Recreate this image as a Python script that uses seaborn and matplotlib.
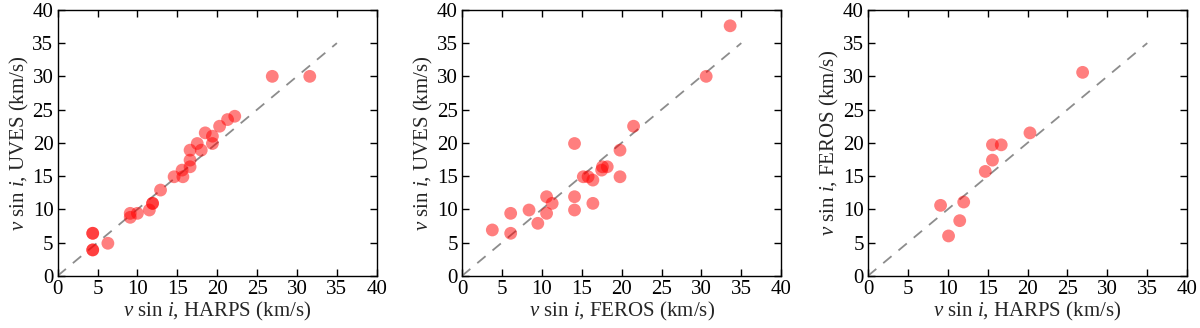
import matplotlib
matplotlib.use("Agg")
import matplotlib.pyplot as plt
import seaborn as sns
import pandas as pd

# Panel 1: HARPS vs UVES
harps_1 = [4.4, 4.4, 4.4, 4.4, 6.3, 9.1, 9.1, 10.0, 11.5, 11.9, 11.9, 12.9, 14.6, 15.6,
           15.7, 16.6, 16.6, 16.6, 17.5, 18.0, 18.5, 19.4, 19.4, 20.3, 21.3, 22.2, 26.9, 31.6]
uves_1 = [6.4, 6.4, 3.9, 3.9, 4.9, 9.4, 8.8, 9.4, 9.9, 10.9, 10.9, 12.9, 14.9, 15.9,
          14.9, 16.4, 17.4, 18.9, 19.9, 18.9, 21.5, 21.0, 19.9, 22.5, 23.5, 24.0, 30.0, 30.0]

# Panel 2: FEROS vs UVES
feros_2 = [3.8, 6.1, 6.1, 8.4, 9.5, 10.6, 10.6, 11.3, 14.1, 14.1, 14.1, 15.2, 15.8, 16.4,
           16.4, 17.5, 17.6, 18.2, 19.8, 19.8, 21.5, 30.6, 33.6]
uves_2 = [6.9, 9.4, 6.4, 9.9, 7.9, 11.9, 9.4, 10.9, 19.9, 11.9, 9.9, 14.9, 14.9, 14.4,
          10.9, 15.9, 16.4, 16.4, 18.9, 14.9, 22.5, 30.0, 37.6]

# Panel 3: HARPS vs FEROS
harps_3 = [9.1, 10.1, 11.5, 12.0, 14.7, 15.6, 15.6, 16.7, 20.3, 26.9]
feros_3 = [10.6, 6.0, 8.3, 11.1, 15.7, 17.4, 19.7, 19.7, 21.5, 30.6]

one_to_one = [0, 35]
ticks = [0, 5, 10, 15, 20, 25, 30, 35, 40]

sns.set_style("ticks")
plt.rcParams["font.family"] = ["Liberation Serif", "DejaVu Serif"]
plt.rcParams["mathtext.fontset"] = "custom"
plt.rcParams["mathtext.rm"] = "Liberation Serif"
plt.rcParams["mathtext.it"] = "Liberation Serif:italic"
plt.rcParams["font.size"] = 15

fig = plt.figure(figsize=(12, 3.28), dpi=100)
positions = [
    [0.048, 0.159, 0.266, 0.811],
    [0.385, 0.159, 0.266, 0.811],
    [0.7233, 0.159, 0.266, 0.811],
]
panels = [
    (harps_1, uves_1, r"$v$ sin $i$, HARPS (km/s)", r"$v$ sin $i$, UVES (km/s)"),
    (feros_2, uves_2, r"$v$ sin $i$, FEROS (km/s)", r"$v$ sin $i$, UVES (km/s)"),
    (harps_3, feros_3, r"$v$ sin $i$, HARPS (km/s)", r"$v$ sin $i$, FEROS (km/s)"),
]

for pos, (xs, ys, xl, yl) in zip(positions, panels):
    ax = fig.add_axes(pos)
    ax.plot(one_to_one, one_to_one, ls=(0, (6, 5)), color="#8c8c8c", lw=1.3, zorder=1)
    df = pd.DataFrame({"x": xs, "y": ys})
    sns.scatterplot(data=df, x="x", y="y", ax=ax, color="red", alpha=0.5, s=85,
                    edgecolor="none", linewidth=0, zorder=2)
    ax.set_xlim(0, 40)
    ax.set_ylim(0, 40)
    ax.set_xticks(ticks)
    ax.set_yticks(ticks)
    ax.tick_params(direction="in", top=True, right=True, length=5, width=1,
                   labelsize=15, pad=3, colors="black")
    for sp in ax.spines.values():
        sp.set_linewidth(1.0)
        sp.set_color("black")
    ax.set_xlabel(xl, fontsize=15, labelpad=1)
    ax.set_ylabel(yl, fontsize=15, labelpad=1)

fig.savefig("out.png", dpi=100)
